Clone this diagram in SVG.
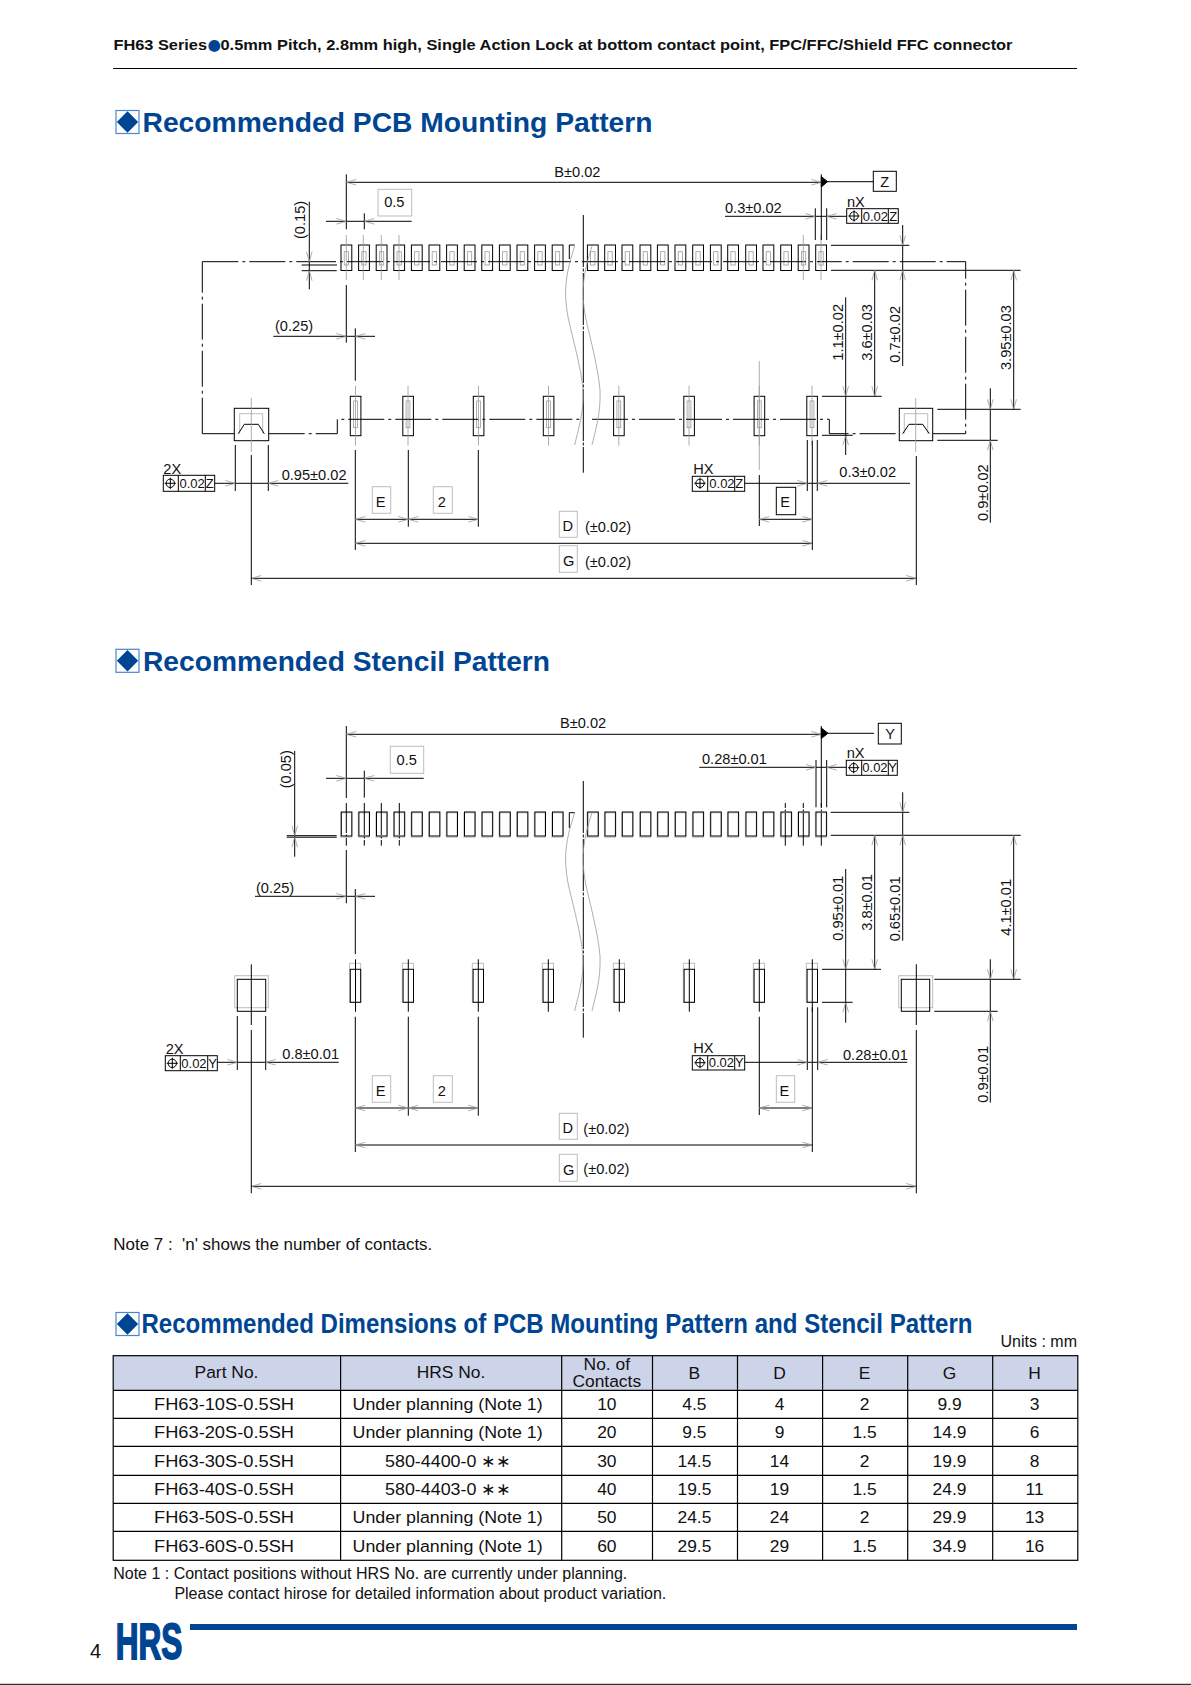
<svg xmlns="http://www.w3.org/2000/svg" width="1191" height="1685" viewBox="0 0 1191 1685">
<style>
text{font-family:"Liberation Sans",Arial,sans-serif;fill:#111}
.d{font-size:14.6px}
.s{font-size:13px}
.m{text-anchor:middle}
.h{font-size:28px;font-weight:bold;fill:#004592}
.c{font-size:17.4px;text-anchor:middle}
.n{font-size:16px}
line,path,rect,circle{fill:none;stroke:#000;stroke-width:1}
.g{stroke:#9a9a9a;stroke-width:.8}
.gb{stroke:#bdbdbd;stroke-width:1}
.cl{stroke-dasharray:36 4 3 4}
.v{stroke-dasharray:52 1.5 3 1.5}
.tb{stroke-width:1.2}
.dl{stroke-dasharray:32 1.5 2 1.5 8}
.dr{stroke-dasharray:5 1.5 2 1.5 40}
</style>
<defs>
<g id="ar"><path class="g" d="M0 0L-10 -2.8M0 0L-10 2.8"/></g>
<g id="al"><path class="g" d="M0 0L10 -2.8M0 0L10 2.8"/></g>
<g id="au"><path class="g" d="M0 0L-2.8 10M0 0L2.8 10"/></g>
<g id="ad"><path class="g" d="M0 0L-2.8 -10M0 0L2.8 -10"/></g>
<g id="p1"><rect x="-5.3" y="0" width="10.8" height="25.5"/><rect class="g" x="-2.1" y="6.7" width="4.3" height="13.3"/></g>
<g id="p2"><rect x="-5.2" y="0" width="10.6" height="39.4"/><rect class="g" x="-1.9" y="4.7" width="3.8" height="26.7"/><line class="g" x1="0" y1="-10.6" x2="0" y2="49.4"/></g>
<g id="s1"><rect class="gb" x="-5.6" y=".8" width="10.8" height="24.4"/><rect x="-5" y="0" width="10.6" height="24"/></g>
<g id="s2"><rect class="gb" x="-6" y="-6" width="11.2" height="39"/><rect x="-5.2" y="0" width="10.4" height="33"/><line x1="0" y1="-10" x2="0" y2="42.4"/></g>
<g id="fc"><circle cx="0" cy="0" r="4.2"/><path d="M-5.6 0H5.6M0 -5.6V5.6"/></g>
<g id="ic"><rect x="0" y="0" width="23" height="23" style="stroke:#4a86d0;stroke-width:1.2;fill:#fff"/><path d="M11.5 .8L22.2 11.5L11.5 22.2L.8 11.5Z" style="fill:#004592;stroke:none"/></g>
</defs>

<g id="page-header">
<text x="113.5" y="50" style="font-size:15.5px;font-weight:bold" textLength="93.5" lengthAdjust="spacingAndGlyphs">FH63 Series</text>
<text x="207.5" y="50" style="font-family:'DejaVu Sans',sans-serif;font-size:15.5px;fill:#004592">●</text>
<text x="220.5" y="50" style="font-size:15.5px;font-weight:bold" textLength="792" lengthAdjust="spacingAndGlyphs">0.5mm Pitch, 2.8mm high, Single Action Lock at bottom contact point, FPC/FFC/Shield FFC connector</text>
<line x1="113" y1="68.5" x2="1077" y2="68.5"/>
</g>

<g id="title-pcb"><use href="#ic" x="116" y="110.5"/><text class="h" x="142.5" y="132.3" textLength="510" lengthAdjust="spacingAndGlyphs">Recommended PCB Mounting Pattern</text></g>

<g id="pcb-pattern">
<g id="pcb-top-pads">
<use href="#p1" x="346.3" y="245"/><use href="#p1" x="363.9" y="245"/><use href="#p1" x="381.5" y="245"/><use href="#p1" x="399.1" y="245"/><use href="#p1" x="416.7" y="245"/><use href="#p1" x="434.3" y="245"/><use href="#p1" x="451.9" y="245"/><use href="#p1" x="469.5" y="245"/><use href="#p1" x="487.1" y="245"/><use href="#p1" x="504.7" y="245"/><use href="#p1" x="522.3" y="245"/><use href="#p1" x="539.9" y="245"/><use href="#p1" x="557.5" y="245"/>
<path d="M574.7 245H569.3V259"/>
<use href="#p1" x="592.7" y="245"/><use href="#p1" x="610" y="245"/><use href="#p1" x="627.3" y="245"/><use href="#p1" x="645.3" y="245"/><use href="#p1" x="662.7" y="245"/><use href="#p1" x="680.3" y="245"/><use href="#p1" x="698" y="245"/><use href="#p1" x="715.7" y="245"/><use href="#p1" x="733" y="245"/><use href="#p1" x="751" y="245"/><use href="#p1" x="768.3" y="245"/><use href="#p1" x="786" y="245"/><use href="#p1" x="803.5" y="245"/><use href="#p1" x="821" y="245"/>
</g>
<g id="pcb-bottom-pads">
<use href="#p2" x="355.5" y="396.3"/><use href="#p2" x="408" y="396.3"/><use href="#p2" x="478.5" y="396.3"/><use href="#p2" x="548.5" y="396.3"/><use href="#p2" x="618.8" y="396.3"/><use href="#p2" x="689" y="396.3"/><use href="#p2" x="759.3" y="396.3"/><use href="#p2" x="812" y="396.3"/>
</g>
<g id="pcb-left-pad"><rect x="234.3" y="408.3" width="34.4" height="32.4"/><path class="gb" d="M239.7 433.7V413.7H262.7V433.7"/><path d="M238.3 433.7L244.3 424.3H258.3L264.3 433.7"/></g>
<g id="pcb-right-pad"><rect x="899.3" y="408.3" width="33.4" height="32.4"/><path class="gb" d="M904.3 433.7V413.7H927.7V433.7"/><path d="M902.7 433.7L909 424.3H922.7L929.3 433.7"/></g>

<g id="pcb-connectors">
<path class="cl" d="M202.3 261.7H300"/>
<path class="cl" d="M202.3 433.7V261.7"/>
<path class="cl" d="M202.3 433.7H234.3"/>
<path class="cl" d="M268.7 433.7H337.3V419.3H580"/>
<path class="cl" d="M592 419.3H829.3V433.7H899.3"/>
<path class="cl" d="M932.7 433.7H965.7V261.7H830"/>
<line class="cl" x1="300" y1="261.7" x2="830" y2="261.7"/>
<line x1="301.7" y1="265" x2="337" y2="265"/><line x1="301.7" y1="270.7" x2="336.7" y2="270.7"/>
<line class="v" x1="583.3" y1="215" x2="583.3" y2="472.7"/>
<path class="g" d="M574.7 246C566 273 563 290 568 317C573 340 581 367 583 390C584 413 578 430 574.7 445"/>
<path class="g" d="M592 246C583.5 273 580.5 290 585.5 317C590.5 340 598 367 600 390C601 413 595.5 430 592 445"/>
<line x1="346.3" y1="174.3" x2="346.3" y2="229.3"/><line x1="346.3" y1="285" x2="346.3" y2="342.7"/>
<line class="g" x1="346.3" y1="235" x2="346.3" y2="280"/><line class="g" x1="363.3" y1="235" x2="363.3" y2="280"/><line class="g" x1="381.3" y1="235" x2="381.3" y2="280"/><line class="g" x1="399" y1="235" x2="399" y2="280"/><line class="g" x1="803.3" y1="235" x2="803.3" y2="280"/><line class="g" x1="821" y1="235" x2="821" y2="280"/>
<line x1="346.3" y1="182.3" x2="821.3" y2="182.3"/><use href="#al" x="346.3" y="182.3"/><use href="#ar" x="821.3" y="182.3"/>
<line x1="821.3" y1="174.3" x2="821.3" y2="240"/>
<path d="M821.3 176.5L827.5 181.7L821.3 187Z" style="fill:#000"/><line x1="827" y1="181.7" x2="873.3" y2="181.7"/>
<line x1="326" y1="221.3" x2="411.7" y2="221.3"/><line x1="364.3" y1="213.3" x2="364.3" y2="229.3"/><use href="#ar" x="346.3" y="221.3"/><use href="#al" x="364.3" y="221.3"/>
<line x1="309.3" y1="201.7" x2="309.3" y2="289.3"/><use href="#ad" x="309.3" y="261.7"/><use href="#au" x="309.3" y="270.7"/>
<line x1="273.3" y1="336.3" x2="375" y2="336.3"/><line x1="355.3" y1="328.3" x2="355.3" y2="380.7"/><use href="#ar" x="346.3" y="336.3"/><use href="#al" x="355.3" y="336.3"/>
<line x1="725" y1="216.3" x2="846.7" y2="216.3"/><line x1="815.3" y1="208.3" x2="815.3" y2="240"/><line x1="826.7" y1="208.3" x2="826.7" y2="240"/><use href="#ar" x="815.3" y="216.3"/><use href="#al" x="826.7" y="216.3"/>
<line x1="831" y1="245.3" x2="909.3" y2="245.3"/><line x1="831" y1="270.3" x2="1020.7" y2="270.3"/>
<line x1="902.7" y1="225" x2="902.7" y2="366"/><use href="#ad" x="902.7" y="245.3"/><use href="#au" x="902.7" y="270.3"/>
<line x1="874.7" y1="270.3" x2="874.7" y2="396.3"/><use href="#au" x="874.7" y="270.3"/><use href="#ad" x="874.7" y="396.3"/>
<line x1="845.7" y1="297.3" x2="845.7" y2="455"/><use href="#ad" x="845.7" y="396.3"/><use href="#au" x="845.7" y="435.3"/>
<line x1="822" y1="396.3" x2="881.7" y2="396.3"/><line x1="822" y1="435.3" x2="852.7" y2="435.3"/>
<line x1="1013.7" y1="270.3" x2="1013.7" y2="409.3"/><use href="#au" x="1013.7" y="270.3"/><use href="#ad" x="1013.7" y="409.3"/>
<line x1="937.3" y1="409.3" x2="1020.7" y2="409.3"/><line x1="937.3" y1="440.3" x2="997.7" y2="440.3"/>
<line x1="990.3" y1="388.3" x2="990.3" y2="522.7"/><use href="#ad" x="990.3" y="409.3"/><use href="#au" x="990.3" y="440.3"/>
<line x1="355.3" y1="450" x2="355.3" y2="550"/><line x1="408.3" y1="450" x2="408.3" y2="526.7"/><line x1="478.3" y1="450" x2="478.3" y2="526.7"/>
<line x1="355.3" y1="519.3" x2="478.3" y2="519.3"/><use href="#al" x="355.3" y="519.3"/><use href="#ar" x="408.3" y="519.3"/><use href="#al" x="408.3" y="519.3"/><use href="#ar" x="478.3" y="519.3"/>
<line x1="355.3" y1="543.3" x2="812.3" y2="543.3"/><use href="#al" x="355.3" y="543.3"/><use href="#ar" x="812.3" y="543.3"/>
<line x1="812.3" y1="440.7" x2="812.3" y2="550"/>
<line x1="251.3" y1="578.3" x2="916.3" y2="578.3"/><use href="#al" x="251.3" y="578.3"/><use href="#ar" x="916.3" y="578.3"/>
<line x1="251.3" y1="455" x2="251.3" y2="585"/><line x1="916.3" y1="456" x2="916.3" y2="585"/>
<line class="g" x1="251.3" y1="398" x2="251.3" y2="452"/><line class="g" x1="915.7" y1="398" x2="915.7" y2="452"/>
<line x1="214.7" y1="483.3" x2="348.3" y2="483.3"/><line x1="235.3" y1="445" x2="235.3" y2="491"/><line x1="268.3" y1="445" x2="268.3" y2="491"/><use href="#ar" x="235.3" y="483.3"/><use href="#al" x="268.3" y="483.3"/>
<line x1="744.7" y1="483.3" x2="910" y2="483.3"/><line x1="807.3" y1="440" x2="807.3" y2="491"/><line x1="817.3" y1="440" x2="817.3" y2="491"/><use href="#ar" x="807.3" y="483.3"/><use href="#al" x="817.3" y="483.3"/>
<line class="g" x1="759.3" y1="361" x2="759.3" y2="470"/><line x1="759.3" y1="475" x2="759.3" y2="526"/>
<line x1="759.3" y1="519.3" x2="812.3" y2="519.3"/><use href="#al" x="759.3" y="519.3"/><use href="#ar" x="812.3" y="519.3"/>
</g>

<g id="pcb-datum-z"><rect x="873.3" y="171.3" width="23" height="20"/><text class="d m" x="884.8" y="186.5">Z</text></g>
<g id="pcb-box-05"><rect class="gb" x="378" y="189.3" width="33.7" height="26.7"/><text class="d m" x="394.3" y="207.3">0.5</text></g>
<g id="pcb-box-e1"><rect class="gb" x="372.3" y="486.7" width="18.4" height="26.6"/><text class="d m" x="380.7" y="507.3">E</text></g>
<g id="pcb-box-2"><rect class="gb" x="433.3" y="486.7" width="19" height="26.6"/><text class="d m" x="441.7" y="507.3">2</text></g>
<g id="pcb-box-d"><rect class="gb" x="559.3" y="511.3" width="18" height="26"/><text class="d m" x="567.7" y="531.3">D</text><text class="d" x="585" y="532.3">(±0.02)</text></g>
<g id="pcb-box-g"><rect class="gb" x="559.3" y="545.7" width="18" height="26.6"/><text class="d m" x="568.7" y="566">G</text><text class="d" x="585" y="567">(±0.02)</text></g>
<g id="pcb-box-e2"><rect x="776.3" y="487.3" width="19.4" height="27.4"/><text class="d m" x="785" y="507.3">E</text></g>

<g id="pcb-fcf-2x"><text class="d" x="163.3" y="474">2X</text><rect x="163.3" y="475.3" width="51.4" height="16"/><path d="M178.3 475.3V491.3M205.3 475.3V491.3"/><use href="#fc" x="170.3" y="483.3"/><text class="s" x="179.5" y="488">0.02</text><text class="s m" x="209.7" y="488">Z</text></g>
<g id="pcb-fcf-nx"><text class="d" x="847" y="207.3">nX</text><rect x="846.7" y="208.7" width="51.6" height="14.6"/><path d="M861.7 208.7V223.3M888.3 208.7V223.3"/><use href="#fc" x="854" y="216"/><text class="s" x="862.7" y="221">0.02</text><text class="s m" x="893.3" y="221">Z</text></g>
<g id="pcb-fcf-hx"><text class="d" x="693.3" y="474">HX</text><rect x="692.3" y="476.3" width="52.4" height="15"/><path d="M707.7 476.3V491.3M734.7 476.3V491.3"/><use href="#fc" x="700" y="483.3"/><text class="s" x="709.3" y="488.3">0.02</text><text class="s m" x="739.3" y="488.3">Z</text></g>

<g id="pcb-labels">
<text class="d" x="554.3" y="176.7">B±0.02</text>
<text class="d" x="725" y="212.7">0.3±0.02</text>
<text class="d" x="275" y="330.7">(0.25)</text>
<text class="d" x="281.7" y="480">0.95±0.02</text>
<text class="d" x="839.3" y="477.3">0.3±0.02</text>
<text class="d" transform="rotate(-90 305 239)" x="305" y="239">(0.15)</text>
<text class="d" transform="rotate(-90 843.3 360.7)" x="843.3" y="360.7">1.1±0.02</text>
<text class="d" transform="rotate(-90 871.7 360.7)" x="871.7" y="360.7">3.6±0.03</text>
<text class="d" transform="rotate(-90 900 362.7)" x="900" y="362.7">0.7±0.02</text>
<text class="d" transform="rotate(-90 1011 370)" x="1011" y="370">3.95±0.03</text>
<text class="d" transform="rotate(-90 988 521)" x="988" y="521">0.9±0.02</text>
</g>
</g>

<g id="title-stencil"><use href="#ic" x="116" y="649.3"/><text class="h" x="143" y="670.7" textLength="407" lengthAdjust="spacingAndGlyphs">Recommended Stencil Pattern</text></g>

<g id="stencil-pattern">
<g id="stencil-top-pads">
<use href="#s1" x="346.3" y="812"/><use href="#s1" x="363.9" y="812"/><use href="#s1" x="381.5" y="812"/><use href="#s1" x="399.1" y="812"/><use href="#s1" x="416.7" y="812"/><use href="#s1" x="434.3" y="812"/><use href="#s1" x="451.9" y="812"/><use href="#s1" x="469.5" y="812"/><use href="#s1" x="487.1" y="812"/><use href="#s1" x="504.7" y="812"/><use href="#s1" x="522.3" y="812"/><use href="#s1" x="539.9" y="812"/><use href="#s1" x="557.5" y="812"/>
<path d="M574.7 812.7H569.3V828"/>
<use href="#s1" x="592.7" y="812"/><use href="#s1" x="610" y="812"/><use href="#s1" x="627.3" y="812"/><use href="#s1" x="645.3" y="812"/><use href="#s1" x="662.7" y="812"/><use href="#s1" x="680.3" y="812"/><use href="#s1" x="698" y="812"/><use href="#s1" x="715.7" y="812"/><use href="#s1" x="733" y="812"/><use href="#s1" x="751" y="812"/><use href="#s1" x="768.3" y="812"/><use href="#s1" x="786" y="812"/><use href="#s1" x="803.5" y="812"/><use href="#s1" x="821" y="812"/>
</g>
<g id="stencil-bottom-pads">
<use href="#s2" x="355.5" y="969.3"/><use href="#s2" x="408.3" y="969.3"/><use href="#s2" x="478.3" y="969.3"/><use href="#s2" x="548.3" y="969.3"/><use href="#s2" x="619.3" y="969.3"/><use href="#s2" x="689.3" y="969.3"/><use href="#s2" x="759.3" y="969.3"/><use href="#s2" x="812.3" y="969.3"/>
</g>
<g id="stencil-left-pad"><rect class="gb" x="234.7" y="975.7" width="33.6" height="32"/><rect x="237.3" y="979.3" width="28.4" height="32"/></g>
<g id="stencil-right-pad"><rect class="gb" x="898.7" y="975.7" width="34" height="32"/><rect x="901.3" y="979.3" width="28.4" height="32"/></g>

<g id="stencil-connectors">
<line x1="286.7" y1="835.7" x2="336.7" y2="835.7"/><line x1="286.7" y1="837.2" x2="336.7" y2="837.2"/>
<line class="v" x1="583.3" y1="781" x2="583.3" y2="1037.7"/>
<path class="g" d="M574.7 812.7C566 839 563 856 568 883C573 906 581 933 583 956C584 979 578 996 574.7 1011"/>
<path class="g" d="M592 812.7C583.5 839 580.5 856 585.5 883C590.5 906 598 933 600 956C601 979 595.5 996 592 1011"/>
<line x1="346.3" y1="726" x2="346.3" y2="798"/><line class="cl" x1="346.3" y1="803" x2="346.3" y2="845.7" style="stroke-dasharray:30 1.5 2 1.5 8"/><line x1="346.3" y1="850" x2="346.3" y2="903.3"/>
<line class="dl" x1="364.3" y1="803" x2="364.3" y2="845.7"/><line class="dl" x1="381.3" y1="803" x2="381.3" y2="845.7"/><line class="dl" x1="399.3" y1="803" x2="399.3" y2="845.7"/>
<line class="dr" x1="785.3" y1="803" x2="785.3" y2="845.7"/><line class="dr" x1="803.3" y1="803" x2="803.3" y2="845.7"/><line class="dr" x1="821.3" y1="803" x2="821.3" y2="845.7"/>
<line x1="346.3" y1="734.3" x2="821.3" y2="734.3"/><use href="#al" x="346.3" y="734.3"/><use href="#ar" x="821.3" y="734.3"/>
<line x1="821.3" y1="726" x2="821.3" y2="806.7"/>
<path d="M821.3 728L828 733.3L821.3 738.5Z" style="fill:#000"/><line x1="827" y1="733.3" x2="874" y2="733.3"/>
<line x1="326" y1="778.3" x2="423.7" y2="778.3"/><line x1="364.3" y1="770.7" x2="364.3" y2="797.7"/><use href="#ar" x="346.3" y="778.3"/><use href="#al" x="364.3" y="778.3"/>
<line x1="294.7" y1="751" x2="294.7" y2="856.7"/><use href="#ad" x="294.7" y="835.7"/><use href="#au" x="294.7" y="837.2"/>
<line x1="255" y1="896.3" x2="375" y2="896.3"/><line x1="355.3" y1="889" x2="355.3" y2="954"/><use href="#ar" x="346.3" y="896.3"/><use href="#al" x="355.3" y="896.3"/>
<line x1="699.3" y1="767.3" x2="846.3" y2="767.3"/><line x1="816" y1="760" x2="816" y2="807.3"/><line x1="826.7" y1="760" x2="826.7" y2="807.3"/><use href="#ar" x="816" y="767.3"/><use href="#al" x="826.7" y="767.3"/>
<line x1="830.7" y1="812.3" x2="909.3" y2="812.3"/><line x1="830.7" y1="835.3" x2="1020.7" y2="835.3"/>
<line x1="902.7" y1="792.3" x2="902.7" y2="940.7"/><use href="#ad" x="902.7" y="812.3"/><use href="#au" x="902.7" y="835.3"/>
<line x1="874.7" y1="835.3" x2="874.7" y2="969.3"/><use href="#au" x="874.7" y="835.3"/><use href="#ad" x="874.7" y="969.3"/>
<line x1="845.7" y1="869" x2="845.7" y2="1022.7"/><use href="#ad" x="845.7" y="969.3"/><use href="#au" x="845.7" y="1002.3"/>
<line x1="822" y1="969.3" x2="881" y2="969.3"/><line x1="822" y1="1002.3" x2="852.7" y2="1002.3"/>
<line x1="1013.7" y1="835.3" x2="1013.7" y2="979.3"/><use href="#au" x="1013.7" y="835.3"/><use href="#ad" x="1013.7" y="979.3"/>
<line x1="934.3" y1="979.3" x2="1020.7" y2="979.3"/><line x1="934.3" y1="1011.3" x2="997.7" y2="1011.3"/>
<line x1="990.3" y1="959.3" x2="990.3" y2="1102.7"/><use href="#ad" x="990.3" y="979.3"/><use href="#au" x="990.3" y="1011.3"/>
<line x1="355.3" y1="1016.7" x2="355.3" y2="1152"/><line x1="408.3" y1="1016.7" x2="408.3" y2="1115.7"/><line x1="478.3" y1="1016.7" x2="478.3" y2="1115.7"/>
<line x1="355.3" y1="1108" x2="478.3" y2="1108"/><use href="#al" x="355.3" y="1108"/><use href="#ar" x="408.3" y="1108"/><use href="#al" x="408.3" y="1108"/><use href="#ar" x="478.3" y="1108"/>
<line x1="355.3" y1="1145" x2="812.3" y2="1145"/><use href="#al" x="355.3" y="1145"/><use href="#ar" x="812.3" y="1145"/>
<line x1="812.3" y1="1007.3" x2="812.3" y2="1152"/>
<line x1="251.3" y1="1186.3" x2="916.3" y2="1186.3"/><use href="#al" x="251.3" y="1186.3"/><use href="#ar" x="916.3" y="1186.3"/>
<line x1="251.3" y1="964.3" x2="251.3" y2="1025"/><line x1="251.3" y1="1030" x2="251.3" y2="1193.3"/>
<line x1="916.3" y1="964.3" x2="916.3" y2="1025"/><line x1="916.3" y1="1030" x2="916.3" y2="1193.3"/>
<line x1="217.3" y1="1062.3" x2="338.7" y2="1062.3"/><line x1="237.3" y1="1016" x2="237.3" y2="1070"/><line x1="265.7" y1="1016" x2="265.7" y2="1070"/><use href="#ar" x="237.3" y="1062.3"/><use href="#al" x="265.7" y="1062.3"/>
<line x1="744.7" y1="1062.3" x2="907.3" y2="1062.3"/><line x1="807.3" y1="1007.3" x2="807.3" y2="1070"/><line x1="817.7" y1="1007.3" x2="817.7" y2="1070"/><use href="#ar" x="807.3" y="1062.3"/><use href="#al" x="817.7" y="1062.3"/>
<line x1="759.3" y1="1016.7" x2="759.3" y2="1115"/>
<line x1="759.3" y1="1108" x2="812.3" y2="1108"/><use href="#al" x="759.3" y="1108"/><use href="#ar" x="812.3" y="1108"/>
</g>

<g id="stencil-datum-y"><rect x="878.3" y="723.3" width="23" height="20.7"/><text class="d m" x="890" y="738.7">Y</text></g>
<g id="stencil-box-05"><rect class="gb" x="390.3" y="746.3" width="33.4" height="27"/><text class="d m" x="406.7" y="765">0.5</text></g>
<g id="stencil-box-e1"><rect class="gb" x="372.3" y="1075.7" width="18.4" height="26.6"/><text class="d m" x="380.7" y="1096">E</text></g>
<g id="stencil-box-2"><rect class="gb" x="433.3" y="1075.7" width="19" height="26.6"/><text class="d m" x="441.7" y="1096">2</text></g>
<g id="stencil-box-d"><rect class="gb" x="559.3" y="1113.3" width="18" height="26"/><text class="d m" x="567.7" y="1133.3">D</text><text class="d" x="583.3" y="1134.3">(±0.02)</text></g>
<g id="stencil-box-g"><rect class="gb" x="559.3" y="1154.3" width="18" height="27"/><text class="d m" x="568.7" y="1175">G</text><text class="d" x="583.3" y="1174">(±0.02)</text></g>
<g id="stencil-box-e2"><rect class="gb" x="776.3" y="1075.7" width="18.4" height="26.6"/><text class="d m" x="784.3" y="1096">E</text></g>

<g id="stencil-fcf-2x"><text class="d" x="165.7" y="1054">2X</text><rect x="165.3" y="1055.7" width="52" height="15"/><path d="M180.3 1055.7V1070.7M207.7 1055.7V1070.7"/><use href="#fc" x="172.3" y="1063.3"/><text class="s" x="181.3" y="1067.7">0.02</text><text class="s m" x="212.5" y="1067.7">Y</text></g>
<g id="stencil-fcf-nx"><text class="d" x="846.7" y="758">nX</text><rect x="846.3" y="760.3" width="51" height="15"/><path d="M861.7 760.3V775.3M888.3 760.3V775.3"/><use href="#fc" x="853.7" y="767.7"/><text class="s" x="862.3" y="772.3">0.02</text><text class="s m" x="892.7" y="772.3">Y</text></g>
<g id="stencil-fcf-hx"><text class="d" x="693.3" y="1052.7">HX</text><rect x="692.3" y="1055.7" width="52.4" height="14.3"/><path d="M707.7 1055.7V1070M734.7 1055.7V1070"/><use href="#fc" x="700" y="1062.7"/><text class="s" x="708.7" y="1066.7">0.02</text><text class="s m" x="739.3" y="1066.7">Y</text></g>

<g id="stencil-labels">
<text class="d" x="560" y="728">B±0.02</text>
<text class="d" x="702" y="764">0.28±0.01</text>
<text class="d" x="256" y="893.3">(0.25)</text>
<text class="d" x="282.3" y="1059">0.8±0.01</text>
<text class="d" x="843" y="1059.7">0.28±0.01</text>
<text class="d" transform="rotate(-90 290.7 788.3)" x="290.7" y="788.3">(0.05)</text>
<text class="d" transform="rotate(-90 843.3 940.7)" x="843.3" y="940.7">0.95±0.01</text>
<text class="d" transform="rotate(-90 871.7 930.7)" x="871.7" y="930.7">3.8±0.01</text>
<text class="d" transform="rotate(-90 900 941.3)" x="900" y="941.3">0.65±0.01</text>
<text class="d" transform="rotate(-90 1011 935.7)" x="1011" y="935.7">4.1±0.01</text>
<text class="d" transform="rotate(-90 988 1102.7)" x="988" y="1102.7">0.9±0.01</text>
</g>
</g>

<g id="note-7"><text class="n" x="113.3" y="1250" textLength="319" lengthAdjust="spacingAndGlyphs" style="white-space:pre">Note 7 :  'n' shows the number of contacts.</text></g>

<g id="title-dimensions"><use href="#ic" x="116" y="1312.5"/><text class="h" transform="translate(141.5 1333.3) scale(.8 1)" x="0" y="0" textLength="1038.75" lengthAdjust="spacingAndGlyphs">Recommended Dimensions of PCB Mounting Pattern and Stencil Pattern</text></g>
<g id="units"><text class="n" x="1077" y="1347" style="text-anchor:end">Units : mm</text></g>

<g id="dimension-table">
<rect x="113.2" y="1355.7" width="964.6" height="34.6" style="fill:#cdd3e8;stroke:none"/>
<rect class="tb" x="113.2" y="1355.7" width="964.6" height="204.6"/>
<path class="tb" d="M113.2 1390.3H1077.8M113.2 1418.3H1077.8M113.2 1446.3H1077.8M113.2 1475.3H1077.8M113.2 1503.3H1077.8M113.2 1531.3H1077.8M340.6 1355.7V1560.3M561.7 1355.7V1560.3M652.5 1355.7V1560.3M737.5 1355.7V1560.3M822.6 1355.7V1560.3M907.7 1355.7V1560.3M992.7 1355.7V1560.3"/>
<g id="table-header">
<text class="c" x="226.5" y="1378">Part No.</text><text class="c" x="451" y="1378">HRS No.</text>
<text class="c" y="1370"><tspan x="606.8">No. of</tspan><tspan x="606.8" y="1387.3">Contacts</tspan></text>
<text class="c" x="694.4" y="1378.7">B</text><text class="c" x="779.5" y="1378.7">D</text><text class="c" x="864.5" y="1378.7">E</text><text class="c" x="949.5" y="1378.7">G</text><text class="c" x="1034.6" y="1378.7">H</text>
</g>
<g id="row-10"><text class="c" x="224" y="1410" textLength="140" lengthAdjust="spacingAndGlyphs">FH63-10S-0.5SH</text><text class="c" x="447.6" y="1410" textLength="190" lengthAdjust="spacingAndGlyphs">Under planning (Note 1)</text><text class="c" x="606.8" y="1410">10</text><text class="c" x="694.4" y="1410">4.5</text><text class="c" x="779.5" y="1410">4</text><text class="c" x="864.5" y="1410">2</text><text class="c" x="949.5" y="1410">9.9</text><text class="c" x="1034.6" y="1410">3</text></g>
<g id="row-20"><text class="c" x="224" y="1438" textLength="140" lengthAdjust="spacingAndGlyphs">FH63-20S-0.5SH</text><text class="c" x="447.6" y="1438" textLength="190" lengthAdjust="spacingAndGlyphs">Under planning (Note 1)</text><text class="c" x="606.8" y="1438">20</text><text class="c" x="694.4" y="1438">9.5</text><text class="c" x="779.5" y="1438">9</text><text class="c" x="864.5" y="1438">1.5</text><text class="c" x="949.5" y="1438">14.9</text><text class="c" x="1034.6" y="1438">6</text></g>
<g id="row-30"><text class="c" x="224" y="1466.7" textLength="140" lengthAdjust="spacingAndGlyphs">FH63-30S-0.5SH</text><text class="c" x="447.6" y="1466.7" textLength="125" lengthAdjust="spacingAndGlyphs">580-4400-0 ∗∗</text><text class="c" x="606.8" y="1466.7">30</text><text class="c" x="694.4" y="1466.7">14.5</text><text class="c" x="779.5" y="1466.7">14</text><text class="c" x="864.5" y="1466.7">2</text><text class="c" x="949.5" y="1466.7">19.9</text><text class="c" x="1034.6" y="1466.7">8</text></g>
<g id="row-40"><text class="c" x="224" y="1494.7" textLength="140" lengthAdjust="spacingAndGlyphs">FH63-40S-0.5SH</text><text class="c" x="447.6" y="1494.7" textLength="125" lengthAdjust="spacingAndGlyphs">580-4403-0 ∗∗</text><text class="c" x="606.8" y="1494.7">40</text><text class="c" x="694.4" y="1494.7">19.5</text><text class="c" x="779.5" y="1494.7">19</text><text class="c" x="864.5" y="1494.7">1.5</text><text class="c" x="949.5" y="1494.7">24.9</text><text class="c" x="1034.6" y="1494.7">11</text></g>
<g id="row-50"><text class="c" x="224" y="1522.7" textLength="140" lengthAdjust="spacingAndGlyphs">FH63-50S-0.5SH</text><text class="c" x="447.6" y="1522.7" textLength="190" lengthAdjust="spacingAndGlyphs">Under planning (Note 1)</text><text class="c" x="606.8" y="1522.7">50</text><text class="c" x="694.4" y="1522.7">24.5</text><text class="c" x="779.5" y="1522.7">24</text><text class="c" x="864.5" y="1522.7">2</text><text class="c" x="949.5" y="1522.7">29.9</text><text class="c" x="1034.6" y="1522.7">13</text></g>
<g id="row-60"><text class="c" x="224" y="1552" textLength="140" lengthAdjust="spacingAndGlyphs">FH63-60S-0.5SH</text><text class="c" x="447.6" y="1552" textLength="190" lengthAdjust="spacingAndGlyphs">Under planning (Note 1)</text><text class="c" x="606.8" y="1552">60</text><text class="c" x="694.4" y="1552">29.5</text><text class="c" x="779.5" y="1552">29</text><text class="c" x="864.5" y="1552">1.5</text><text class="c" x="949.5" y="1552">34.9</text><text class="c" x="1034.6" y="1552">16</text></g>
</g>
<g id="note-1">
<text class="n" x="113.2" y="1578.7">Note 1 : Contact positions without HRS No. are currently under planning.</text>
<text class="n" x="174.4" y="1598.7">Please contact hirose for detailed information about product variation.</text>
</g>

<g id="footer">
<text x="90" y="1658.3" style="font-size:20px">4</text>
<text x="115.7" y="1659" textLength="66.6" lengthAdjust="spacingAndGlyphs" style="font-size:50px;font-weight:bold;fill:#004592;stroke:#004592;stroke-width:1.8">HRS</text>
<rect x="190" y="1624" width="887" height="6" style="fill:#004592;stroke:none"/>
<line x1="0" y1="1684.3" x2="1191" y2="1684.3"/>
</g>
</svg>
